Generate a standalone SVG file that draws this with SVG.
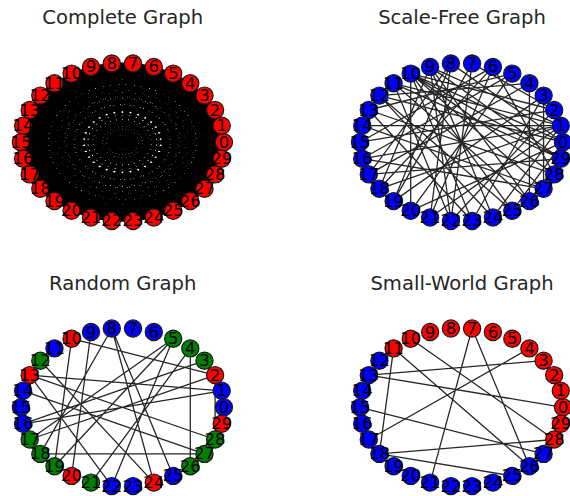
<svg xmlns="http://www.w3.org/2000/svg" width="570" height="496" viewBox="0 0 570 496">
<style>
.title{font-family:"DejaVu Sans",sans-serif;font-size:19.6px;fill:#262626;text-anchor:middle}
.lbl{font-family:"DejaVu Sans",sans-serif;font-size:16.5px;fill:#000;text-anchor:middle}
.n{stroke:#1a1a1a;stroke-width:1.2}
.r{fill:#ff0000}.b{fill:#0000ff}.g{fill:#008000}
.edges{fill:none;stroke:#000;stroke-width:1.3;stroke-opacity:0.85}
.kn{fill:none;stroke:#000;stroke-width:1.7}
</style>
<rect width="570" height="496" fill="#fff"/>
<text class="title" x="122.7" y="24">Complete Graph</text>
<text class="title" x="462" y="24">Scale-Free Graph</text>
<text class="title" x="122.7" y="289.5">Random Graph</text>
<text class="title" x="462" y="289.5">Small-World Graph</text>

<!-- Complete graph -->
<g id="complete-graph" transform="translate(122.4,142.2)">
<g id="cg-edges" class="kn" transform="scale(1,0.7803)">
<polygon vector-effect="non-scaling-stroke" points="101.5,0 99.3,-21.1 92.7,-41.3 82.1,-59.7 67.9,-75.4 50.8,-87.9 31.4,-96.5 10.6,-100.9 -10.6,-100.9 -31.4,-96.5 -50.8,-87.9 -67.9,-75.4 -82.1,-59.7 -92.7,-41.3 -99.3,-21.1 -101.5,0 -99.3,21.1 -92.7,41.3 -82.1,59.7 -67.9,75.4 -50.8,87.9 -31.4,96.5 -10.6,100.9 10.6,100.9 31.4,96.5 50.8,87.9 67.9,75.4 82.1,59.7 92.7,41.3 99.3,21.1"/>
<polygon vector-effect="non-scaling-stroke" points="101.5,0 10.6,-100.9 -99.3,-21.1 -31.4,96.5 92.7,41.3 50.8,-87.9 -82.1,-59.7 -67.9,75.4 67.9,75.4 82.1,-59.7 -50.8,-87.9 -92.7,41.3 31.4,96.5 99.3,-21.1 -10.6,-100.9 -101.5,0 -10.6,100.9 99.3,21.1 31.4,-96.5 -92.7,-41.3 -50.8,87.9 82.1,59.7 67.9,-75.4 -67.9,-75.4 -82.1,59.7 50.8,87.9 92.7,-41.3 -31.4,-96.5 -99.3,21.1 10.6,100.9"/>
<polygon vector-effect="non-scaling-stroke" points="101.5,0 -67.9,-75.4 -10.6,100.9 82.1,-59.7 -99.3,-21.1 50.8,87.9 31.4,-96.5 -92.7,41.3 92.7,41.3 -31.4,-96.5 -50.8,87.9 99.3,-21.1 -82.1,-59.7 10.6,100.9 67.9,-75.4 -101.5,0 67.9,75.4 10.6,-100.9 -82.1,59.7 99.3,21.1 -50.8,-87.9 -31.4,96.5 92.7,-41.3 -92.7,-41.3 31.4,96.5 50.8,-87.9 -99.3,21.1 82.1,59.7 -10.6,-100.9 -67.9,75.4"/>
<polygon vector-effect="non-scaling-stroke" points="101.5,0 -92.7,-41.3 67.9,75.4 -31.4,-96.5 -10.6,100.9 50.8,-87.9 -82.1,59.7 99.3,-21.1 -99.3,-21.1 82.1,59.7 -50.8,-87.9 10.6,100.9 31.4,-96.5 -67.9,75.4 92.7,-41.3 -101.5,0 92.7,41.3 -67.9,-75.4 31.4,96.5 10.6,-100.9 -50.8,87.9 82.1,-59.7 -99.3,21.1 99.3,21.1 -82.1,-59.7 50.8,87.9 -10.6,-100.9 -31.4,96.5 67.9,-75.4 -92.7,41.3"/>
<g id="cg-k2">
<polygon vector-effect="non-scaling-stroke" points="101.5,0 92.7,-41.3 67.9,-75.4 31.4,-96.5 -10.6,-100.9 -50.8,-87.9 -82.1,-59.7 -99.3,-21.1 -99.3,21.1 -82.1,59.7 -50.8,87.9 -10.6,100.9 31.4,96.5 67.9,75.4 92.7,41.3"/>
<polygon vector-effect="non-scaling-stroke" points="101.5,0 67.9,-75.4 -10.6,-100.9 -82.1,-59.7 -99.3,21.1 -50.8,87.9 31.4,96.5 92.7,41.3 92.7,-41.3 31.4,-96.5 -50.8,-87.9 -99.3,-21.1 -82.1,59.7 -10.6,100.9 67.9,75.4"/>
<polygon vector-effect="non-scaling-stroke" points="101.5,0 -10.6,-100.9 -99.3,21.1 31.4,96.5 92.7,-41.3 -50.8,-87.9 -82.1,59.7 67.9,75.4 67.9,-75.4 -82.1,-59.7 -50.8,87.9 92.7,41.3 31.4,-96.5 -99.3,-21.1 -10.6,100.9"/>
<polygon vector-effect="non-scaling-stroke" points="101.5,0 -99.3,-21.1 92.7,41.3 -82.1,-59.7 67.9,75.4 -50.8,-87.9 31.4,96.5 -10.6,-100.9 -10.6,100.9 31.4,-96.5 -50.8,87.9 67.9,-75.4 -82.1,59.7 92.7,-41.3 -99.3,21.1"/>
</g>
<use href="#cg-k2" transform="rotate(-12)"/>
<g id="cg-k3">
<polygon vector-effect="non-scaling-stroke" points="101.5,0 82.1,-59.7 31.4,-96.5 -31.4,-96.5 -82.1,-59.7 -101.5,0 -82.1,59.7 -31.4,96.5 31.4,96.5 82.1,59.7"/>
<polygon vector-effect="non-scaling-stroke" points="101.5,0 -31.4,-96.5 -82.1,59.7 82.1,59.7 31.4,-96.5 -101.5,0 31.4,96.5 82.1,-59.7 -82.1,-59.7 -31.4,96.5"/>
</g>
<use href="#cg-k3" transform="rotate(-12)"/>
<use href="#cg-k3" transform="rotate(-24)"/>
<g id="cg-k5"><polygon vector-effect="non-scaling-stroke" points="101.5,0 50.8,-87.9 -50.8,-87.9 -101.5,0 -50.8,87.9 50.8,87.9"/></g>
<use href="#cg-k5" transform="rotate(-12)"/>
<use href="#cg-k5" transform="rotate(-24)"/>
<use href="#cg-k5" transform="rotate(-36)"/>
<use href="#cg-k5" transform="rotate(-48)"/>
<g id="cg-k6">
<polygon vector-effect="non-scaling-stroke" points="101.5,0 31.4,-96.5 -82.1,-59.7 -82.1,59.7 31.4,96.5"/>
<polygon vector-effect="non-scaling-stroke" points="101.5,0 -82.1,-59.7 31.4,96.5 31.4,-96.5 -82.1,59.7"/>
</g>
<use href="#cg-k6" transform="rotate(-12)"/>
<use href="#cg-k6" transform="rotate(-24)"/>
<use href="#cg-k6" transform="rotate(-36)"/>
<use href="#cg-k6" transform="rotate(-48)"/>
<use href="#cg-k6" transform="rotate(-60)"/>
<g id="cg-k10"><polygon vector-effect="non-scaling-stroke" points="101.5,0 -50.8,-87.9 -50.8,87.9"/></g>
<use href="#cg-k10" transform="rotate(-12)"/>
<use href="#cg-k10" transform="rotate(-24)"/>
<use href="#cg-k10" transform="rotate(-36)"/>
<use href="#cg-k10" transform="rotate(-48)"/>
<use href="#cg-k10" transform="rotate(-60)"/>
<use href="#cg-k10" transform="rotate(-72)"/>
<use href="#cg-k10" transform="rotate(-84)"/>
<use href="#cg-k10" transform="rotate(-96)"/>
<use href="#cg-k10" transform="rotate(-108)"/>
<path vector-effect="non-scaling-stroke" d="M101.5,0L-101.5,0M99.3,-21.1L-99.3,21.1M92.7,-41.3L-92.7,41.3M82.1,-59.7L-82.1,59.7M67.9,-75.4L-67.9,75.4M50.8,-87.9L-50.8,87.9M31.4,-96.5L-31.4,96.5M10.6,-100.9L-10.6,100.9M-10.6,-100.9L10.6,100.9M-31.4,-96.5L31.4,96.5M-50.8,-87.9L50.8,87.9M-67.9,-75.4L67.9,75.4M-82.1,-59.7L82.1,59.7M-92.7,-41.3L92.7,41.3M-99.3,-21.1L99.3,21.1"/>
</g>
<g id="cg-nodes">
<g id="cg-n0"><circle class="n r" cx="101.5" cy="0" r="8.6"/></g>
<g id="cg-n1"><circle class="n r" cx="99.3" cy="-16.5" r="8.6"/></g>
<g id="cg-n2"><circle class="n r" cx="92.7" cy="-32.2" r="8.6"/></g>
<g id="cg-n3"><circle class="n r" cx="82.1" cy="-46.6" r="8.6"/></g>
<g id="cg-n4"><circle class="n r" cx="67.9" cy="-58.9" r="8.6"/></g>
<g id="cg-n5"><circle class="n r" cx="50.8" cy="-68.6" r="8.6"/></g>
<g id="cg-n6"><circle class="n r" cx="31.4" cy="-75.3" r="8.6"/></g>
<g id="cg-n7"><circle class="n r" cx="10.6" cy="-78.8" r="8.6"/></g>
<g id="cg-n8"><circle class="n r" cx="-10.6" cy="-78.8" r="8.6"/></g>
<g id="cg-n9"><circle class="n r" cx="-31.4" cy="-75.3" r="8.6"/></g>
<g id="cg-n10"><circle class="n r" cx="-50.8" cy="-68.6" r="8.6"/></g>
<g id="cg-n11"><circle class="n r" cx="-67.9" cy="-58.9" r="8.6"/></g>
<g id="cg-n12"><circle class="n r" cx="-82.1" cy="-46.6" r="8.6"/></g>
<g id="cg-n13"><circle class="n r" cx="-92.7" cy="-32.2" r="8.6"/></g>
<g id="cg-n14"><circle class="n r" cx="-99.3" cy="-16.5" r="8.6"/></g>
<g id="cg-n15"><circle class="n r" cx="-101.5" cy="0" r="8.6"/></g>
<g id="cg-n16"><circle class="n r" cx="-99.3" cy="16.5" r="8.6"/></g>
<g id="cg-n17"><circle class="n r" cx="-92.7" cy="32.2" r="8.6"/></g>
<g id="cg-n18"><circle class="n r" cx="-82.1" cy="46.6" r="8.6"/></g>
<g id="cg-n19"><circle class="n r" cx="-67.9" cy="58.9" r="8.6"/></g>
<g id="cg-n20"><circle class="n r" cx="-50.8" cy="68.6" r="8.6"/></g>
<g id="cg-n21"><circle class="n r" cx="-31.4" cy="75.3" r="8.6"/></g>
<g id="cg-n22"><circle class="n r" cx="-10.6" cy="78.8" r="8.6"/></g>
<g id="cg-n23"><circle class="n r" cx="10.6" cy="78.8" r="8.6"/></g>
<g id="cg-n24"><circle class="n r" cx="31.4" cy="75.3" r="8.6"/></g>
<g id="cg-n25"><circle class="n r" cx="50.8" cy="68.6" r="8.6"/></g>
<g id="cg-n26"><circle class="n r" cx="67.9" cy="58.9" r="8.6"/></g>
<g id="cg-n27"><circle class="n r" cx="82.1" cy="46.6" r="8.6"/></g>
<g id="cg-n28"><circle class="n r" cx="92.7" cy="32.2" r="8.6"/></g>
<g id="cg-n29"><circle class="n r" cx="99.3" cy="16.5" r="8.6"/></g>
</g>
<g id="cg-labels" class="lbl">
<text x="101.5" y="5.5">0</text><text x="99.3" y="-11">1</text><text x="92.7" y="-26.7">2</text><text x="82.1" y="-41.1">3</text><text x="67.9" y="-53.4">4</text><text x="50.8" y="-63.1">5</text><text x="31.4" y="-69.8">6</text><text x="10.6" y="-73.3">7</text><text x="-10.6" y="-73.3">8</text><text x="-31.4" y="-69.8">9</text><text x="-50.8" y="-63.1">10</text><text x="-67.9" y="-53.4">11</text><text x="-82.1" y="-41.1">12</text><text x="-92.7" y="-26.7">13</text><text x="-99.3" y="-11">14</text><text x="-101.5" y="5.5">15</text><text x="-99.3" y="22">16</text><text x="-92.7" y="37.7">17</text><text x="-82.1" y="52.1">18</text><text x="-67.9" y="64.4">19</text><text x="-50.8" y="74.1">20</text><text x="-31.4" y="80.8">21</text><text x="-10.6" y="84.3">22</text><text x="10.6" y="84.3">23</text><text x="31.4" y="80.8">24</text><text x="50.8" y="74.1">25</text><text x="67.9" y="64.4">26</text><text x="82.1" y="52.1">27</text><text x="92.7" y="37.7">28</text><text x="99.3" y="22">29</text>
</g>
</g>

<!-- Scale-free graph -->
<g id="scale-free-graph" transform="translate(461.5,142.2)">
<g id="sf-edges" class="edges">
<path d="M99.3,-16.5L-99.3,-16.5M-50.8,-68.6L-50.8,68.6M67.9,-58.9L67.9,58.9M82.1,-46.6L82.1,46.6M-50.8,-68.6L10.6,78.8M-50.8,-68.6L50.8,68.6M-50.8,-68.6L82.1,46.6M-50.8,-68.6L92.7,32.2M-50.8,-68.6L99.3,16.5M-50.8,-68.6L101.5,0M-50.8,-68.6L92.7,-32.2M-31.4,-75.3L-10.6,78.8M-31.4,-75.3L31.4,75.3M-31.4,-75.3L67.9,58.9M-31.4,-75.3L99.3,-16.5M-31.4,-75.3L-82.1,46.6M-10.6,-78.8L-92.7,32.2M-10.6,-78.8L-67.9,58.9M-10.6,-78.8L-31.4,75.3M-10.6,-78.8L101.5,0M-67.9,-58.9L99.3,-16.5M-67.9,-58.9L-10.6,78.8M-67.9,-58.9L99.3,16.5M-82.1,-46.6L101.5,0M-82.1,-46.6L67.9,-58.9M-82.1,-46.6L50.8,68.6M-92.7,-32.2L92.7,32.2M-92.7,-32.2L50.8,-68.6M-101.5,0L31.4,-75.3M-101.5,0L92.7,-32.2M-99.3,16.5L99.3,-16.5M-99.3,16.5L82.1,46.6M-99.3,16.5L50.8,-68.6M-92.7,32.2L99.3,16.5M-92.7,32.2L67.9,-58.9M-82.1,46.6L99.3,-16.5M-82.1,46.6L31.4,-75.3M-67.9,58.9L82.1,-46.6M-67.9,58.9L10.6,-78.8M-50.8,68.6L101.5,0M-50.8,68.6L50.8,-68.6M-31.4,75.3L99.3,-16.5M-31.4,75.3L31.4,-75.3M-10.6,78.8L92.7,-32.2M-10.6,78.8L10.6,-78.8M10.6,78.8L82.1,-46.6M10.6,78.8L-92.7,-32.2M31.4,75.3L-82.1,-46.6M31.4,75.3L99.3,-16.5M50.8,68.6L101.5,0M67.9,58.9L-67.9,-58.9M82.1,46.6L-99.3,-16.5M92.7,32.2L31.4,-75.3M99.3,16.5L-31.4,-75.3M92.7,-32.2L10.6,-78.8"/>
</g>
<g id="sf-nodes">
<g id="sf-n0"><circle class="n b" cx="101.5" cy="0" r="8.6"/></g>
<g id="sf-n1"><circle class="n b" cx="99.3" cy="-16.5" r="8.6"/></g>
<g id="sf-n2"><circle class="n b" cx="92.7" cy="-32.2" r="8.6"/></g>
<g id="sf-n3"><circle class="n b" cx="82.1" cy="-46.6" r="8.6"/></g>
<g id="sf-n4"><circle class="n b" cx="67.9" cy="-58.9" r="8.6"/></g>
<g id="sf-n5"><circle class="n b" cx="50.8" cy="-68.6" r="8.6"/></g>
<g id="sf-n6"><circle class="n b" cx="31.4" cy="-75.3" r="8.6"/></g>
<g id="sf-n7"><circle class="n b" cx="10.6" cy="-78.8" r="8.6"/></g>
<g id="sf-n8"><circle class="n b" cx="-10.6" cy="-78.8" r="8.6"/></g>
<g id="sf-n9"><circle class="n b" cx="-31.4" cy="-75.3" r="8.6"/></g>
<g id="sf-n10"><circle class="n b" cx="-50.8" cy="-68.6" r="8.6"/></g>
<g id="sf-n11"><circle class="n b" cx="-67.9" cy="-58.9" r="8.6"/></g>
<g id="sf-n12"><circle class="n b" cx="-82.1" cy="-46.6" r="8.6"/></g>
<g id="sf-n13"><circle class="n b" cx="-92.7" cy="-32.2" r="8.6"/></g>
<g id="sf-n14"><circle class="n b" cx="-99.3" cy="-16.5" r="8.6"/></g>
<g id="sf-n15"><circle class="n b" cx="-101.5" cy="0" r="8.6"/></g>
<g id="sf-n16"><circle class="n b" cx="-99.3" cy="16.5" r="8.6"/></g>
<g id="sf-n17"><circle class="n b" cx="-92.7" cy="32.2" r="8.6"/></g>
<g id="sf-n18"><circle class="n b" cx="-82.1" cy="46.6" r="8.6"/></g>
<g id="sf-n19"><circle class="n b" cx="-67.9" cy="58.9" r="8.6"/></g>
<g id="sf-n20"><circle class="n b" cx="-50.8" cy="68.6" r="8.6"/></g>
<g id="sf-n21"><circle class="n b" cx="-31.4" cy="75.3" r="8.6"/></g>
<g id="sf-n22"><circle class="n b" cx="-10.6" cy="78.8" r="8.6"/></g>
<g id="sf-n23"><circle class="n b" cx="10.6" cy="78.8" r="8.6"/></g>
<g id="sf-n24"><circle class="n b" cx="31.4" cy="75.3" r="8.6"/></g>
<g id="sf-n25"><circle class="n b" cx="50.8" cy="68.6" r="8.6"/></g>
<g id="sf-n26"><circle class="n b" cx="67.9" cy="58.9" r="8.6"/></g>
<g id="sf-n27"><circle class="n b" cx="82.1" cy="46.6" r="8.6"/></g>
<g id="sf-n28"><circle class="n b" cx="92.7" cy="32.2" r="8.6"/></g>
<g id="sf-n29"><circle class="n b" cx="99.3" cy="16.5" r="8.6"/></g>
</g>
<g id="sf-labels" class="lbl">
<text x="101.5" y="5.5">0</text><text x="99.3" y="-11">1</text><text x="92.7" y="-26.7">2</text><text x="82.1" y="-41.1">3</text><text x="67.9" y="-53.4">4</text><text x="50.8" y="-63.1">5</text><text x="31.4" y="-69.8">6</text><text x="10.6" y="-73.3">7</text><text x="-10.6" y="-73.3">8</text><text x="-31.4" y="-69.8">9</text><text x="-50.8" y="-63.1">10</text><text x="-67.9" y="-53.4">11</text><text x="-82.1" y="-41.1">12</text><text x="-92.7" y="-26.7">13</text><text x="-99.3" y="-11">14</text><text x="-101.5" y="5.5">15</text><text x="-99.3" y="22">16</text><text x="-92.7" y="37.7">17</text><text x="-82.1" y="52.1">18</text><text x="-67.9" y="64.4">19</text><text x="-50.8" y="74.1">20</text><text x="-31.4" y="80.8">21</text><text x="-10.6" y="84.3">22</text><text x="10.6" y="84.3">23</text><text x="31.4" y="80.8">24</text><text x="50.8" y="74.1">25</text><text x="67.9" y="64.4">26</text><text x="82.1" y="52.1">27</text><text x="92.7" y="37.7">28</text><text x="99.3" y="22">29</text>
</g>
</g>

<!-- Random graph -->
<g id="random-graph" transform="translate(122.4,407.3)">
<g id="rg-edges" class="edges">
<path d="M67.9,-58.9L67.9,58.9M-82.1,46.6L82.1,46.6M-50.8,-68.6L92.7,-32.2M-92.7,-32.2L99.3,-16.5M-10.6,-78.8L50.8,68.6M-10.6,-78.8L31.4,75.3M-31.4,-75.3L-50.8,68.6M-10.6,-78.8L-82.1,46.6M50.8,-68.6L-92.7,32.2M50.8,-68.6L-67.9,58.9M82.1,-46.6L-99.3,16.5M92.7,-32.2L-92.7,32.2M99.3,-16.5L-99.3,16.5M-82.1,-46.6L31.4,75.3M-92.7,-32.2L-10.6,78.8M-92.7,-32.2L92.7,32.2M-99.3,-16.5L82.1,46.6M92.7,-32.2L92.7,32.2M50.8,-68.6L-10.6,78.8M67.9,-58.9L-31.4,75.3M-50.8,-68.6L-67.9,58.9"/>
</g>
<g id="rg-nodes">
<g id="rg-n0"><circle class="n b" cx="101.5" cy="0" r="8.6"/></g>
<g id="rg-n1"><circle class="n b" cx="99.3" cy="-16.5" r="8.6"/></g>
<g id="rg-n2"><circle class="n r" cx="92.7" cy="-32.2" r="8.6"/></g>
<g id="rg-n3"><circle class="n g" cx="82.1" cy="-46.6" r="8.6"/></g>
<g id="rg-n4"><circle class="n g" cx="67.9" cy="-58.9" r="8.6"/></g>
<g id="rg-n5"><circle class="n g" cx="50.8" cy="-68.6" r="8.6"/></g>
<g id="rg-n6"><circle class="n b" cx="31.4" cy="-75.3" r="8.6"/></g>
<g id="rg-n7"><circle class="n b" cx="10.6" cy="-78.8" r="8.6"/></g>
<g id="rg-n8"><circle class="n b" cx="-10.6" cy="-78.8" r="8.6"/></g>
<g id="rg-n9"><circle class="n b" cx="-31.4" cy="-75.3" r="8.6"/></g>
<g id="rg-n10"><circle class="n r" cx="-50.8" cy="-68.6" r="8.6"/></g>
<g id="rg-n11"><circle class="n b" cx="-67.9" cy="-58.9" r="8.6"/></g>
<g id="rg-n12"><circle class="n g" cx="-82.1" cy="-46.6" r="8.6"/></g>
<g id="rg-n13"><circle class="n r" cx="-92.7" cy="-32.2" r="8.6"/></g>
<g id="rg-n14"><circle class="n b" cx="-99.3" cy="-16.5" r="8.6"/></g>
<g id="rg-n15"><circle class="n b" cx="-101.5" cy="0" r="8.6"/></g>
<g id="rg-n16"><circle class="n b" cx="-99.3" cy="16.5" r="8.6"/></g>
<g id="rg-n17"><circle class="n g" cx="-92.7" cy="32.2" r="8.6"/></g>
<g id="rg-n18"><circle class="n g" cx="-82.1" cy="46.6" r="8.6"/></g>
<g id="rg-n19"><circle class="n g" cx="-67.9" cy="58.9" r="8.6"/></g>
<g id="rg-n20"><circle class="n r" cx="-50.8" cy="68.6" r="8.6"/></g>
<g id="rg-n21"><circle class="n g" cx="-31.4" cy="75.3" r="8.6"/></g>
<g id="rg-n22"><circle class="n b" cx="-10.6" cy="78.8" r="8.6"/></g>
<g id="rg-n23"><circle class="n b" cx="10.6" cy="78.8" r="8.6"/></g>
<g id="rg-n24"><circle class="n r" cx="31.4" cy="75.3" r="8.6"/></g>
<g id="rg-n25"><circle class="n b" cx="50.8" cy="68.6" r="8.6"/></g>
<g id="rg-n26"><circle class="n g" cx="67.9" cy="58.9" r="8.6"/></g>
<g id="rg-n27"><circle class="n g" cx="82.1" cy="46.6" r="8.6"/></g>
<g id="rg-n28"><circle class="n g" cx="92.7" cy="32.2" r="8.6"/></g>
<g id="rg-n29"><circle class="n r" cx="99.3" cy="16.5" r="8.6"/></g>
</g>
<g id="rg-labels" class="lbl">
<text x="101.5" y="5.5">0</text><text x="99.3" y="-11">1</text><text x="92.7" y="-26.7">2</text><text x="82.1" y="-41.1">3</text><text x="67.9" y="-53.4">4</text><text x="50.8" y="-63.1">5</text><text x="31.4" y="-69.8">6</text><text x="10.6" y="-73.3">7</text><text x="-10.6" y="-73.3">8</text><text x="-31.4" y="-69.8">9</text><text x="-50.8" y="-63.1">10</text><text x="-67.9" y="-53.4">11</text><text x="-82.1" y="-41.1">12</text><text x="-92.7" y="-26.7">13</text><text x="-99.3" y="-11">14</text><text x="-101.5" y="5.5">15</text><text x="-99.3" y="22">16</text><text x="-92.7" y="37.7">17</text><text x="-82.1" y="52.1">18</text><text x="-67.9" y="64.4">19</text><text x="-50.8" y="74.1">20</text><text x="-31.4" y="80.8">21</text><text x="-10.6" y="84.3">22</text><text x="10.6" y="84.3">23</text><text x="31.4" y="80.8">24</text><text x="50.8" y="74.1">25</text><text x="67.9" y="64.4">26</text><text x="82.1" y="52.1">27</text><text x="92.7" y="37.7">28</text><text x="99.3" y="22">29</text>
</g>
</g>

<!-- Small-world graph -->
<g id="small-world-graph" transform="translate(461.5,407.3)">
<g id="sw-edges" class="edges">
<path d="M-67.9,-58.9L-82.1,46.6M-67.9,-58.9L67.9,58.9M-50.8,-68.6L92.7,32.2M-92.7,-32.2L101.5,0M-92.7,-32.2L82.1,-46.6M67.9,-58.9L-92.7,32.2M10.6,-78.8L-31.4,75.3M10.6,-78.8L67.9,58.9M-101.5,0L82.1,46.6M-82.1,46.6L92.7,32.2M-82.1,46.6L50.8,68.6"/>
</g>
<g id="sw-nodes">
<g id="sw-n0"><circle class="n r" cx="101.5" cy="0" r="8.6"/></g>
<g id="sw-n1"><circle class="n r" cx="99.3" cy="-16.5" r="8.6"/></g>
<g id="sw-n2"><circle class="n r" cx="92.7" cy="-32.2" r="8.6"/></g>
<g id="sw-n3"><circle class="n r" cx="82.1" cy="-46.6" r="8.6"/></g>
<g id="sw-n4"><circle class="n r" cx="67.9" cy="-58.9" r="8.6"/></g>
<g id="sw-n5"><circle class="n r" cx="50.8" cy="-68.6" r="8.6"/></g>
<g id="sw-n6"><circle class="n r" cx="31.4" cy="-75.3" r="8.6"/></g>
<g id="sw-n7"><circle class="n r" cx="10.6" cy="-78.8" r="8.6"/></g>
<g id="sw-n8"><circle class="n r" cx="-10.6" cy="-78.8" r="8.6"/></g>
<g id="sw-n9"><circle class="n r" cx="-31.4" cy="-75.3" r="8.6"/></g>
<g id="sw-n10"><circle class="n r" cx="-50.8" cy="-68.6" r="8.6"/></g>
<g id="sw-n11"><circle class="n r" cx="-67.9" cy="-58.9" r="8.6"/></g>
<g id="sw-n12"><circle class="n b" cx="-82.1" cy="-46.6" r="8.6"/></g>
<g id="sw-n13"><circle class="n b" cx="-92.7" cy="-32.2" r="8.6"/></g>
<g id="sw-n14"><circle class="n b" cx="-99.3" cy="-16.5" r="8.6"/></g>
<g id="sw-n15"><circle class="n b" cx="-101.5" cy="0" r="8.6"/></g>
<g id="sw-n16"><circle class="n b" cx="-99.3" cy="16.5" r="8.6"/></g>
<g id="sw-n17"><circle class="n b" cx="-92.7" cy="32.2" r="8.6"/></g>
<g id="sw-n18"><circle class="n b" cx="-82.1" cy="46.6" r="8.6"/></g>
<g id="sw-n19"><circle class="n b" cx="-67.9" cy="58.9" r="8.6"/></g>
<g id="sw-n20"><circle class="n b" cx="-50.8" cy="68.6" r="8.6"/></g>
<g id="sw-n21"><circle class="n b" cx="-31.4" cy="75.3" r="8.6"/></g>
<g id="sw-n22"><circle class="n b" cx="-10.6" cy="78.8" r="8.6"/></g>
<g id="sw-n23"><circle class="n b" cx="10.6" cy="78.8" r="8.6"/></g>
<g id="sw-n24"><circle class="n b" cx="31.4" cy="75.3" r="8.6"/></g>
<g id="sw-n25"><circle class="n b" cx="50.8" cy="68.6" r="8.6"/></g>
<g id="sw-n26"><circle class="n b" cx="67.9" cy="58.9" r="8.6"/></g>
<g id="sw-n27"><circle class="n b" cx="82.1" cy="46.6" r="8.6"/></g>
<g id="sw-n28"><circle class="n r" cx="92.7" cy="32.2" r="8.6"/></g>
<g id="sw-n29"><circle class="n r" cx="99.3" cy="16.5" r="8.6"/></g>
</g>
<g id="sw-labels" class="lbl">
<text x="101.5" y="5.5">0</text><text x="99.3" y="-11">1</text><text x="92.7" y="-26.7">2</text><text x="82.1" y="-41.1">3</text><text x="67.9" y="-53.4">4</text><text x="50.8" y="-63.1">5</text><text x="31.4" y="-69.8">6</text><text x="10.6" y="-73.3">7</text><text x="-10.6" y="-73.3">8</text><text x="-31.4" y="-69.8">9</text><text x="-50.8" y="-63.1">10</text><text x="-67.9" y="-53.4">11</text><text x="-82.1" y="-41.1">12</text><text x="-92.7" y="-26.7">13</text><text x="-99.3" y="-11">14</text><text x="-101.5" y="5.5">15</text><text x="-99.3" y="22">16</text><text x="-92.7" y="37.7">17</text><text x="-82.1" y="52.1">18</text><text x="-67.9" y="64.4">19</text><text x="-50.8" y="74.1">20</text><text x="-31.4" y="80.8">21</text><text x="-10.6" y="84.3">22</text><text x="10.6" y="84.3">23</text><text x="31.4" y="80.8">24</text><text x="50.8" y="74.1">25</text><text x="67.9" y="64.4">26</text><text x="82.1" y="52.1">27</text><text x="92.7" y="37.7">28</text><text x="99.3" y="22">29</text>
</g>
</g>
</svg>
